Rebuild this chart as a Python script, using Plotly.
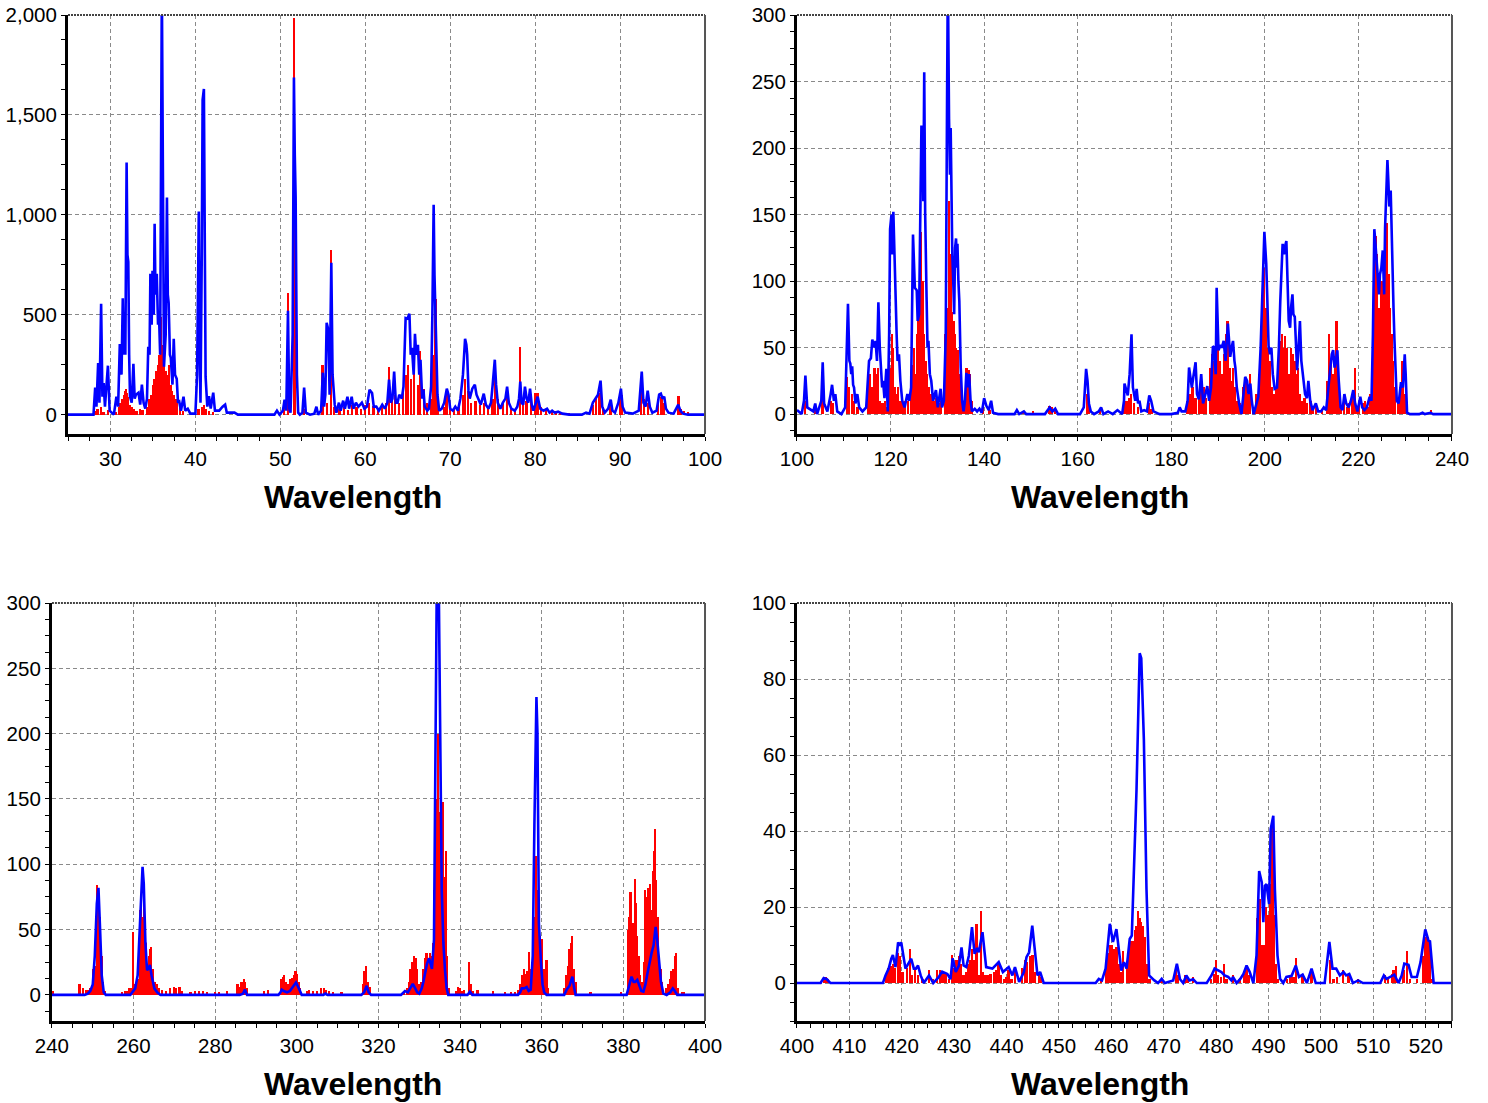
import plotly.graph_objects as go

# ---------------- Panel 1 : 25 - 100 ----------------
p1_sticks = [
    (28.2, 20), (28.5, 30), (28.9, 40), (29.2, 15), (29.7, 25),
    (30.7, 15), (31.0, 40), (31.2, 60), (31.4, 80), (31.6, 100), (31.8, 120), (31.9, 130),
    (32.0, 110), (32.1, 90), (32.3, 50), (32.6, 40), (32.8, 30), (33.1, 20), (33.5, 30), (33.8, 25),
    (34.4, 40), (34.6, 80), (34.8, 100), (35.0, 150), (35.2, 180), (35.4, 220), (35.6, 250),
    (35.8, 300), (36.0, 490), (36.1, 350), (36.3, 280), (36.5, 220), (36.7, 200), (36.9, 250),
    (37.1, 150), (37.3, 120), (37.5, 100), (37.7, 80), (37.9, 60), (38.2, 40), (38.6, 20),
    (40.4, 30), (40.8, 40), (41.0, 50), (41.3, 30), (41.6, 20), (42.1, 15),
    (50.5, 60), (50.9, 610), (51.6, 1983), (51.8, 1250), (52.8, 30),
    (55.0, 250), (55.5, 60), (56.0, 825), (56.3, 40),
    (57.0, 30), (57.5, 40), (58.0, 25), (58.5, 50), (59.0, 40), (59.5, 30), (60.0, 50), (60.5, 60),
    (61.0, 45), (61.5, 30), (62.0, 40), (62.5, 60), (62.8, 240), (63.2, 80), (63.5, 100), (64.0, 60),
    (64.5, 120), (64.8, 200), (65.1, 250), (65.4, 180), (65.8, 320), (66.2, 150), (66.5, 320),
    (66.9, 130), (67.3, 60), (67.8, 80), (68.0, 300), (68.3, 580), (68.6, 60), (69.3, 40), (69.6, 110),
    (70.0, 40), (70.5, 30), (71.0, 40), (71.5, 100), (71.8, 180), (72.1, 120), (72.5, 60), (73.0, 70),
    (73.5, 50), (74.0, 60), (74.5, 40), (75.0, 80), (75.3, 200), (75.7, 80), (76.2, 60), (76.7, 100),
    (77.2, 40), (77.7, 30), (78.25, 340), (78.6, 60), (79.0, 70), (79.5, 90), (80.0, 110), (80.3, 110),
    (80.7, 40), (81.3, 25), (82.0, 15), (82.5, 20), (83.0, 10), (84.0, 10), (86.8, 50), (87.2, 90),
    (87.6, 110), (88.0, 40), (88.9, 60), (90.0, 70), (90.2, 100), (92.5, 170), (92.8, 80), (93.3, 60),
    (94.5, 80), (94.9, 90), (95.2, 60), (96.9, 95), (97.2, 30), (97.6, 20), (98.0, 15),
]
p1_curve = [
    (25, 0), (28.0, 0), (28.2, 135), (28.35, 40), (28.55, 258), (28.7, 60), (28.9, 555), (29.05, 90),
    (29.2, 158), (29.35, 40), (29.7, 245), (29.9, 20), (30.4, 0), (30.7, 90), (30.9, 40), (31.1, 353),
    (31.3, 200), (31.45, 583), (31.55, 300), (31.65, 415), (31.75, 300), (31.9, 1262), (32.0, 800),
    (32.1, 765), (32.2, 300), (32.3, 90), (32.5, 60), (32.7, 255), (32.85, 80), (33.0, 100), (33.3, 110),
    (33.5, 50), (33.7, 150), (33.9, 60), (34.1, 30), (34.3, 80), (34.45, 340), (34.6, 300), (34.7, 705),
    (34.85, 450), (34.95, 720), (35.1, 500), (35.2, 955), (35.3, 600), (35.45, 705), (35.6, 450),
    (35.7, 520), (35.85, 300), (36.05, 2150), (36.2, 500), (36.3, 240), (36.5, 400), (36.65, 1087),
    (36.75, 600), (36.85, 560), (37.0, 300), (37.1, 285), (37.3, 150), (37.45, 380), (37.6, 200),
    (37.8, 180), (37.95, 60), (38.1, 65), (38.3, 20), (38.6, 90), (38.8, 20), (39.1, 30), (39.4, 5),
    (40.0, 5), (40.2, 200), (40.4, 1017), (40.5, 300), (40.6, 60), (40.75, 800), (40.85, 1575),
    (41.0, 1630), (41.1, 600), (41.2, 190), (41.4, 40), (41.6, 93), (41.8, 30), (42.1, 110), (42.3, 20),
    (42.8, 20), (43.2, 40), (43.5, 50), (43.7, 10), (44.2, 10), (44.6, 10), (45.0, 0), (49.3, 0),
    (49.6, 20), (49.9, 0), (50.3, 20), (50.5, 75), (50.7, 20), (50.9, 520), (51.05, 30), (51.2, 10),
    (51.45, 400), (51.6, 1687), (51.7, 1300), (51.8, 1090), (51.95, 200), (52.1, 10), (52.3, 0),
    (52.6, 10), (52.8, 135), (53.0, 10), (53.5, 0), (54.0, 5), (54.25, 40), (54.45, 0), (54.8, 20),
    (55.0, 210), (55.15, 40), (55.3, 100), (55.45, 460), (55.55, 430), (55.65, 425), (55.8, 100),
    (56.0, 760), (56.15, 200), (56.4, 50), (56.6, 10), (56.9, 60), (57.1, 20), (57.4, 70), (57.6, 30),
    (57.9, 90), (58.1, 30), (58.4, 90), (58.6, 30), (58.9, 60), (59.2, 40), (59.6, 60), (59.9, 30),
    (60.2, 40), (60.5, 125), (60.8, 108), (61.0, 40), (61.3, 40), (61.6, 20), (62.0, 50), (62.3, 30),
    (62.6, 60), (62.8, 175), (63.0, 60), (63.2, 80), (63.4, 215), (63.6, 60), (63.8, 60), (64.0, 100),
    (64.3, 80), (64.5, 140), (64.75, 483), (64.95, 480), (65.2, 505), (65.35, 300), (65.5, 335),
    (65.7, 200), (65.85, 405), (66.0, 300), (66.2, 350), (66.35, 200), (66.5, 275), (66.7, 80),
    (66.85, 125), (67.0, 40), (67.3, 20), (67.5, 30), (67.75, 140), (67.9, 500), (68.05, 1050),
    (68.15, 700), (68.3, 420), (68.5, 100), (68.7, 20), (69.0, 30), (69.3, 60), (69.6, 130), (69.8, 100),
    (70.0, 30), (70.3, 20), (70.6, 40), (70.9, 20), (71.2, 80), (71.5, 200), (71.75, 380), (71.9, 350),
    (72.0, 300), (72.15, 120), (72.3, 80), (72.6, 130), (72.9, 150), (73.1, 100), (73.3, 80), (73.6, 50),
    (73.95, 105), (74.2, 50), (74.5, 30), (74.8, 60), (75.0, 150), (75.25, 275), (75.4, 150), (75.6, 60),
    (75.9, 30), (76.2, 60), (76.5, 80), (76.7, 140), (76.9, 60), (77.2, 30), (77.6, 20), (77.9, 40),
    (78.1, 80), (78.25, 165), (78.4, 60), (78.6, 50), (78.8, 140), (79.0, 80), (79.2, 60), (79.4, 130),
    (79.6, 50), (79.8, 20), (80.1, 60), (80.3, 90), (80.6, 30), (81.0, 20), (81.4, 30), (81.7, 10),
    (82.0, 20), (82.3, 10), (82.7, 15), (83.2, 5), (84.0, 0), (85.5, 0), (86.0, 10), (86.4, 5),
    (86.8, 60), (87.1, 80), (87.4, 100), (87.7, 170), (87.9, 40), (88.2, 10), (88.6, 30), (88.9, 75),
    (89.1, 20), (89.4, 10), (89.8, 60), (90.1, 130), (90.3, 40), (90.6, 10), (91.5, 5), (92.2, 20),
    (92.55, 215), (92.75, 60), (93.0, 40), (93.25, 120), (93.5, 40), (93.8, 10), (94.3, 20), (94.6, 100),
    (94.8, 105), (95.0, 80), (95.2, 90), (95.4, 30), (95.7, 10), (96.3, 5), (96.85, 50), (97.1, 20),
    (97.4, 5), (98.0, 0), (100, 0),
]

# ---------------- Panel 2 : 100 - 240 ----------------
p2_sticks = [
    (101.8, 10), (104.0, 3), (105.5, 15), (107.3, 10), (107.8, 8), (110.8, 28), (111.2, 20), (111.8, 15),
    (112.3, 10), (113.0, 5), (115.3, 30), (115.7, 30), (116.2, 20), (116.6, 35), (117.0, 30), (117.4, 35),
    (117.8, 10), (118.3, 8), (118.8, 10), (119.2, 5), (119.7, 40), (120.0, 35), (120.3, 60), (120.6, 50),
    (120.9, 20), (121.3, 15), (121.7, 20), (122.2, 10), (122.7, 8), (123.2, 10), (123.8, 10), (124.5, 30),
    (124.8, 37), (125.1, 50), (125.4, 30), (125.7, 60), (126.0, 90), (126.3, 70), (126.6, 137),
    (126.9, 100), (127.2, 60), (127.5, 40), (127.9, 30), (128.3, 20), (128.8, 15), (129.3, 10),
    (129.8, 12), (130.3, 8), (130.8, 10), (131.7, 60), (132.0, 80), (132.3, 77), (132.6, 160),
    (132.9, 120), (133.2, 77), (133.5, 70), (133.8, 60), (134.1, 50), (134.5, 48), (134.9, 30),
    (135.3, 15), (135.8, 10), (136.3, 35), (136.7, 33), (137.0, 30), (137.4, 10), (139.8, 5), (141.2, 3),
    (148.5, 2), (150.5, 2), (154.0, 6), (154.5, 5), (155.2, 4), (162.0, 15), (162.4, 8), (164.8, 3),
    (170.0, 8), (170.5, 10), (171.0, 12), (171.5, 15), (172.1, 8), (173.0, 5), (175.3, 8), (175.8, 4),
    (183.5, 10), (184.0, 15), (184.6, 20), (185.2, 12), (186.0, 15), (186.5, 18), (187.0, 20),
    (187.5, 12), (188.3, 35), (188.8, 45), (189.3, 40), (189.7, 65), (190.1, 50), (190.5, 40),
    (190.9, 30), (191.3, 45), (191.7, 60), (192.1, 70), (192.5, 35), (192.9, 25), (193.3, 35),
    (193.7, 20), (194.2, 10), (194.8, 8), (195.5, 20), (196.0, 25), (196.5, 15), (196.9, 30), (197.5, 5),
    (198.3, 15), (198.8, 30), (199.2, 60), (199.6, 100), (199.9, 110), (200.3, 80), (200.7, 50),
    (201.1, 40), (201.5, 20), (202.0, 15), (202.5, 20), (202.9, 40), (203.3, 55), (203.7, 60),
    (204.1, 50), (204.4, 59), (204.8, 50), (205.2, 30), (205.6, 50), (206.0, 45), (206.4, 40),
    (206.8, 30), (207.2, 35), (207.6, 15), (208.1, 10), (208.5, 12), (209.0, 8), (209.8, 10), (210.4, 5),
    (211.0, 5), (212.2, 3), (213.4, 25), (213.8, 60), (214.2, 40), (214.6, 30), (215.0, 40), (215.4, 70),
    (215.8, 20), (216.3, 5), (217.0, 10), (217.6, 5), (218.0, 8), (218.8, 15), (219.3, 35), (219.7, 5),
    (220.2, 10), (221.0, 8), (221.5, 10), (222.0, 5), (222.6, 15), (223.0, 30), (223.3, 60),
    (223.7, 134), (224.0, 120), (224.3, 80), (224.7, 70), (225.0, 100), (225.3, 90), (225.6, 120),
    (225.9, 130), (226.2, 144), (226.5, 105), (226.8, 80), (227.1, 60), (227.5, 40), (227.9, 20),
    (228.5, 10), (229.0, 20), (229.5, 40), (229.9, 15), (235.5, 3),
]
p2_curve = [
    (100, 3), (101.0, 0), (101.5, 10), (101.8, 29), (102.2, 5), (103.5, 2), (103.9, 8), (104.3, 0),
    (105.2, 10), (105.5, 39), (105.8, 8), (106.5, 2), (107.2, 15), (107.5, 22), (107.9, 10), (108.2, 15),
    (108.6, 2), (109.5, 0), (110.3, 5), (110.6, 40), (110.9, 83), (111.2, 40), (111.4, 38), (111.6, 30),
    (111.8, 36), (112.0, 22), (112.2, 20), (112.5, 8), (112.9, 15), (113.3, 5), (114.0, 2), (114.8, 5),
    (115.2, 30), (115.4, 40), (115.8, 42), (116.1, 56), (116.5, 50), (116.8, 55), (117.1, 40),
    (117.4, 84), (117.7, 50), (117.9, 35), (118.2, 20), (118.4, 25), (118.7, 12), (119.1, 34),
    (119.4, 2), (119.7, 60), (119.9, 139), (120.2, 150), (120.4, 120), (120.6, 152), (120.9, 105),
    (121.1, 70), (121.3, 60), (121.5, 40), (121.8, 45), (122.1, 25), (122.5, 10), (123.0, 5),
    (123.6, 15), (124.0, 10), (124.4, 20), (124.8, 135), (125.0, 110), (125.2, 95), (125.6, 93),
    (125.8, 70), (126.1, 75), (126.4, 150), (126.6, 216), (126.9, 216), (127.0, 160), (127.2, 257),
    (127.4, 150), (127.7, 88), (127.9, 50), (128.1, 55), (128.4, 30), (128.7, 25), (129.1, 10),
    (129.7, 18), (130.1, 5), (130.7, 19), (131.0, 5), (131.4, 10), (131.8, 60), (132.1, 250),
    (132.25, 330), (132.5, 222), (132.7, 180), (132.85, 215), (133.0, 160), (133.2, 120), (133.4, 100),
    (133.6, 75), (133.8, 125), (134.0, 132), (134.2, 110), (134.3, 128), (134.5, 100), (134.7, 85),
    (135.0, 35), (135.3, 10), (135.6, 2), (135.9, 10), (136.2, 31), (136.5, 20), (136.8, 30),
    (137.1, 10), (137.4, 2), (138.0, 4), (138.5, 2), (139.0, 4), (139.5, 1), (140.0, 12), (140.5, 6),
    (141.0, 3), (141.5, 10), (141.9, 1), (143.0, 0), (146.5, 0), (147.0, 3), (147.5, 0), (148.5, 2),
    (149.0, 0), (153.0, 0), (153.6, 3), (154.0, 5), (154.6, 2), (155.2, 4), (155.8, 0), (160.5, 0),
    (161.3, 5), (161.6, 20), (161.8, 34), (162.1, 25), (162.4, 8), (162.8, 2), (163.5, 0), (164.5, 2),
    (165.0, 5), (165.5, 0), (166.5, 2), (167.5, 0), (168.5, 3), (169.5, 0), (169.9, 10), (170.0, 23),
    (170.4, 18), (170.7, 14), (171.1, 30), (171.5, 60), (171.8, 20), (172.0, 15), (172.3, 10),
    (172.6, 19), (172.9, 8), (173.2, 10), (173.6, 2), (174.2, 3), (174.8, 2), (175.3, 14), (175.7, 10),
    (176.2, 2), (177.5, 0), (180.0, 0), (181.4, 1), (181.8, 5), (182.2, 2), (183.0, 2), (183.5, 10),
    (183.8, 35), (184.1, 28), (184.4, 20), (184.8, 30), (185.2, 39), (185.5, 15), (185.9, 11),
    (186.4, 30), (186.8, 8), (187.3, 15), (187.7, 21), (188.1, 10), (188.5, 20), (188.9, 51),
    (189.2, 50), (189.5, 30), (189.7, 95), (190.0, 60), (190.1, 48), (190.5, 52), (190.8, 50),
    (191.2, 55), (191.6, 40), (192.1, 68), (192.4, 55), (192.6, 43), (192.9, 50), (193.2, 55),
    (193.5, 40), (193.7, 35), (194.0, 20), (194.5, 8), (195.0, 0), (195.4, 15), (195.8, 28), (196.2, 25),
    (196.5, 15), (196.9, 23), (197.2, 10), (197.6, 0), (198.2, 8), (198.6, 13), (199.1, 50), (199.4, 85),
    (199.7, 120), (199.9, 137), (200.1, 125), (200.3, 113), (200.5, 90), (200.8, 51), (201.1, 45),
    (201.4, 50), (201.7, 30), (202.1, 19), (202.6, 20), (203.0, 50), (203.3, 85), (203.6, 110),
    (203.8, 128), (204.1, 120), (204.3, 126), (204.6, 130), (204.8, 95), (205.1, 70), (205.4, 65),
    (205.6, 80), (205.9, 90), (206.1, 75), (206.4, 73), (206.7, 45), (206.9, 33), (207.2, 50),
    (207.5, 70), (207.8, 40), (208.2, 25), (208.6, 15), (209.0, 12), (209.3, 25), (209.7, 10),
    (210.2, 3), (210.9, 8), (211.4, 2), (212.0, 2), (212.6, 5), (213.1, 3), (213.6, 20), (213.9, 35),
    (214.3, 45), (214.6, 48), (214.9, 35), (215.2, 40), (215.5, 48), (215.8, 25), (216.2, 5), (216.6, 3),
    (217.0, 15), (217.4, 8), (217.9, 5), (218.4, 10), (218.9, 18), (219.3, 8), (219.8, 2), (220.4, 13),
    (220.8, 5), (221.3, 3), (221.8, 5), (222.4, 13), (222.8, 10), (223.1, 60), (223.4, 139),
    (223.6, 130), (223.9, 115), (224.1, 100), (224.4, 90), (224.6, 105), (224.9, 110), (225.2, 123),
    (225.4, 100), (225.5, 90), (225.7, 140), (225.9, 168), (226.2, 191), (226.4, 175), (226.6, 156),
    (226.9, 168), (227.1, 130), (227.3, 110), (227.5, 80), (227.7, 56), (227.9, 30), (228.2, 10),
    (228.6, 8), (228.9, 20), (229.1, 24), (229.5, 20), (229.9, 45), (230.1, 30), (230.4, 1), (231.0, 0),
    (233.0, 0), (233.7, 1), (234.2, 0), (235.4, 1), (236.0, 0), (240, 0),
]

# ---------------- Panel 3 : 240 - 400 ----------------
p3_sticks = [
    (240.2, 3), (246.8, 8), (247.7, 5), (248.3, 4), (249.0, 4), (249.5, 5), (250.2, 20), (250.6, 22),
    (251.0, 84), (251.4, 82), (251.8, 60), (252.2, 30), (252.6, 10), (253.0, 3),
    (257.3, 2), (258.0, 3), (258.5, 3), (259.0, 5), (259.5, 5), (260.0, 48), (260.4, 8), (260.8, 10),
    (261.2, 12), (261.6, 65), (261.9, 75), (262.2, 60), (262.5, 72), (262.8, 58), (263.1, 40),
    (263.4, 20), (263.8, 30), (264.1, 35), (264.4, 37), (264.8, 20), (265.3, 10), (265.8, 8),
    (266.3, 5), (267.0, 4), (268.0, 3), (269.0, 5), (270.0, 6), (270.5, 5), (271.3, 6), (272.0, 3),
    (274.0, 2), (275.0, 3), (276.0, 3), (277.0, 3), (278.0, 2), (280.0, 2), (281.0, 2), (283.0, 3),
    (285.5, 8), (286.0, 6), (286.5, 10), (287.0, 12), (287.4, 10), (287.8, 5), (292.0, 3), (293.0, 4),
    (296.2, 12), (296.6, 14), (297.0, 15), (297.4, 10), (297.8, 8), (298.3, 12), (298.8, 13),
    (299.3, 15), (299.7, 18), (300.1, 16), (300.5, 10), (300.9, 5), (302.5, 3), (303.0, 4), (304.0, 3),
    (305.0, 3), (306.0, 5), (306.6, 5), (307.2, 4), (308.0, 3), (309.0, 2), (311.0, 2),
    (316.2, 8), (316.6, 18), (317.0, 22), (317.4, 10), (318.0, 6),
    (326.3, 3), (327.0, 5), (327.5, 10), (327.9, 20), (328.3, 25), (328.7, 30), (329.1, 28),
    (329.5, 20), (329.9, 8), (330.5, 10), (331.0, 20), (331.4, 28), (331.8, 32), (332.2, 28),
    (332.6, 32), (333.0, 30), (333.4, 40), (333.7, 80), (334.0, 150), (334.3, 150), (334.7, 200),
    (335.0, 140), (335.4, 120), (335.9, 148), (336.2, 90), (336.6, 110), (336.9, 30), (337.3, 5),
    (339.0, 3), (339.5, 6), (340.0, 5), (340.4, 3), (341.0, 4), (342.2, 25), (342.6, 8), (343.2, 3),
    (344.3, 4), (348.0, 3), (351.0, 2), (352.5, 2), (353.5, 2), (354.3, 4), (354.8, 8), (355.2, 15),
    (355.6, 20), (356.0, 16), (356.4, 18), (356.9, 33), (357.2, 20), (357.6, 25), (358.0, 40),
    (358.3, 60), (358.6, 106), (358.9, 80), (359.2, 67), (359.6, 45), (360.2, 43), (360.6, 20),
    (361.2, 27), (361.6, 5), (365.5, 5), (366.0, 15), (366.4, 22), (366.8, 35), (367.2, 40),
    (367.5, 45), (367.9, 20), (368.3, 10), (372.0, 2), (379.5, 2), (381.3, 50), (381.5, 60),
    (381.8, 79), (382.1, 45), (382.5, 55), (382.8, 89), (383.1, 70), (383.4, 45), (383.8, 30),
    (384.2, 15), (384.6, 10), (385.1, 25), (385.4, 80), (385.7, 75), (386.0, 82), (386.3, 70),
    (386.6, 85), (386.9, 65), (387.2, 95), (387.5, 110), (387.8, 127), (388.1, 88), (388.4, 60),
    (388.8, 30), (389.2, 20), (389.6, 10), (390.5, 5), (391.0, 8), (391.4, 12), (391.8, 18),
    (392.2, 20), (392.6, 30), (393.0, 32), (393.4, 5), (394.3, 2), (395.0, 2),
]
p3_curve = [
    (240, 0), (248.0, 0), (248.8, 1), (249.4, 3), (250.0, 8), (250.5, 30), (251.0, 70), (251.4, 82),
    (251.8, 50), (252.2, 15), (252.7, 2), (253.2, 0), (259.2, 0), (259.8, 3), (260.4, 5), (261.0, 15),
    (261.5, 50), (261.9, 85), (262.2, 98), (262.5, 85), (262.9, 40), (263.3, 19), (263.7, 20),
    (264.0, 23), (264.4, 15), (265.1, 5), (265.8, 2), (266.6, 0), (286.0, 0), (286.8, 1), (287.3, 4),
    (287.8, 0), (295.5, 0), (296.0, 2), (296.3, 4), (296.8, 3), (297.6, 2), (298.3, 3), (299.0, 6),
    (299.8, 9.5), (300.5, 5), (301.2, 0), (306.5, 0), (307.0, 1), (307.5, 0), (315.8, 0), (316.5, 2),
    (317.1, 7), (317.6, 2), (318.2, 0), (325.5, 0), (326.5, 3), (327.2, 2), (327.8, 5), (328.4, 8.5),
    (329.0, 5), (329.5, 2), (330.0, 1), (330.6, 5), (331.0, 10), (331.4, 17), (331.9, 24), (332.4, 28),
    (332.8, 22), (333.1, 20), (333.6, 42), (334.5, 400), (335.5, 80), (335.9, 40), (336.3, 19),
    (336.7, 5), (337.1, 0), (341.8, 0), (342.4, 2.5), (343.0, 0), (354.2, 0), (354.7, 2), (355.1, 5),
    (355.7, 5), (356.3, 6), (356.8, 3), (357.3, 4), (357.8, 30), (358.2, 130), (358.7, 228),
    (358.95, 200), (359.3, 55), (359.8, 25), (360.2, 8), (360.6, 2), (361.2, 0), (365.5, 0),
    (366.1, 4), (366.8, 7), (367.5, 14), (367.9, 6), (368.3, 0), (380.8, 0), (381.5, 8), (382.0, 14),
    (382.5, 10), (382.9, 10), (383.4, 11.5), (383.9, 7), (384.4, 3), (384.9, 2.5), (385.4, 8),
    (385.9, 16.5), (386.4, 25), (386.9, 32), (387.4, 38), (387.9, 52), (388.3, 42), (388.7, 29),
    (389.2, 10), (389.8, 1), (390.6, 0), (391.5, 2), (392.1, 5), (392.6, 3), (393.2, 0), (400, 0),
]

# ---------------- Panel 4 : 400 - 525 ----------------
p4_sticks = [
    (405.2, 1), (405.6, 1.5), (406.0, 1), (417.0, 2), (417.5, 4), (418.0, 4.5), (418.4, 5), (418.8, 4),
    (419.3, 8), (419.7, 7), (420.2, 3), (421.0, 4), (421.6, 9), (422.0, 2), (422.6, 3.5), (423.2, 2),
    (424.0, 1), (425.2, 3.5), (426.0, 1), (426.8, 3.5), (427.3, 3.5), (427.8, 3), (428.4, 2.5),
    (429.0, 1), (429.6, 7.5), (430.0, 4), (430.5, 6), (430.9, 7), (431.4, 5), (431.8, 2), (432.3, 3),
    (432.7, 5), (433.1, 6), (433.5, 9), (433.9, 6), (434.3, 15.5), (434.8, 2), (435.1, 19), (435.5, 3),
    (436.0, 2), (436.4, 2), (437.0, 2.5), (437.6, 3), (438.0, 3.5), (438.5, 5), (439.0, 2), (439.5, 1),
    (440.0, 1.5), (440.4, 3.5), (441.0, 1), (441.6, 3.5), (443.0, 4), (443.5, 6), (444.0, 5.5),
    (444.5, 7), (445.0, 7.5), (445.4, 3), (446.2, 2.5), (446.6, 1.5), (458.0, 1), (459.0, 5),
    (459.4, 8), (459.8, 10), (460.2, 10), (460.6, 9), (461.0, 9.5), (461.4, 5), (461.8, 3), (462.3, 8.5),
    (463.0, 5), (463.4, 9), (463.8, 11), (464.2, 11), (464.5, 14), (464.8, 15), (465.1, 19), (465.4, 17),
    (465.7, 16), (466.0, 15), (466.4, 12), (466.8, 5), (467.3, 1), (469.6, 1), (472.4, 4.5), (472.8, 2),
    (474.2, 2), (474.6, 1.5), (475.6, 1.5), (479.1, 1), (479.6, 2.5), (480.0, 6), (480.4, 2), (481.0, 1.5),
    (481.5, 5), (482.0, 1), (483.2, 2), (484.5, 1), (485.3, 2.5), (485.8, 4), (486.3, 2), (487.9, 17),
    (488.3, 22), (488.7, 10), (489.2, 10), (489.6, 20), (490.0, 18), (490.4, 26), (490.8, 42),
    (491.1, 18), (491.4, 5), (491.9, 1), (493.5, 1), (494.2, 2), (494.8, 1.5), (495.3, 6.5), (496.5, 2.5),
    (498.2, 3.5), (501.7, 6), (502.4, 1), (503.1, 1.5), (504.2, 3.5), (505.3, 2), (507.1, 1), (512.3, 2),
    (512.8, 1.5), (513.6, 2.5), (513.9, 3.5), (514.3, 4.5), (515.8, 3.5), (516.5, 8.5), (517.0, 1),
    (518.4, 1), (519.5, 7), (520.0, 12), (520.4, 12), (520.8, 10), (521.1, 1),
]
p4_curve = [
    (400, 0), (404.5, 0), (405.1, 1.3), (405.7, 1.0), (406.4, 0), (416.4, 0), (416.9, 2), (417.5, 3.8),
    (418.0, 6.4), (418.3, 7.4), (418.8, 4.2), (419.3, 10.7), (419.6, 9.8), (419.9, 10.7), (420.7, 3.8),
    (421.8, 6.4), (422.3, 3.8), (422.7, 3.8), (423.1, 4.6), (423.6, 2), (424.2, 0), (425.2, 2), (426.0, 0),
    (427.0, 1.5), (427.7, 3), (428.7, 2.4), (429.3, 1), (429.7, 6.5), (430.3, 2.9), (430.9, 4.6),
    (431.4, 9.4), (431.8, 4.6), (432.3, 4.2), (432.8, 7.2), (433.4, 14.7), (433.9, 7.7), (434.4, 9.2),
    (434.7, 8.1), (435.4, 13.4), (436.1, 4.2), (437.3, 3.8), (438.5, 5.5), (439.3, 2.9), (440.4, 4.2),
    (441.1, 2), (441.6, 4.2), (442.4, 0.3), (443.3, 2.9), (443.8, 6.8), (444.3, 8.1), (444.9, 15.1),
    (445.5, 8.1), (445.9, 2), (446.4, 2.9), (447.1, 0), (457.0, 0), (457.6, 1.1), (458.2, 0.7),
    (458.9, 3.8), (459.7, 15.6), (460.3, 10.8), (460.96, 14.2), (461.6, 6.4), (461.9, 3.3), (462.4, 5.5),
    (462.9, 3.8), (463.5, 11.6), (463.9, 12.5), (464.8, 51), (465.4, 86.8), (465.7, 85.5), (466.2, 64),
    (466.7, 24.7), (467.2, 2), (468.2, 0.7), (468.9, 0), (469.6, 1.1), (470.2, 0), (471.8, 0.7),
    (472.5, 5.1), (473.1, 1), (473.7, 0), (474.3, 2), (474.9, 0.7), (475.6, 1), (476.3, 0), (478.2, 0),
    (479.1, 2), (479.7, 3.8), (480.4, 3.4), (481.0, 2.9), (481.6, 2), (482.3, 1.6), (482.9, 0.7),
    (483.2, 1.6), (483.9, 0), (484.6, 1.1), (485.2, 2.4), (485.8, 4.6), (486.4, 2.9), (487.1, 0),
    (487.7, 7.3), (488.2, 29.5), (488.7, 26.5), (489.0, 16), (489.3, 25.6), (489.6, 26), (490.1, 20.8),
    (490.4, 40.5), (490.9, 44), (491.2, 24.7), (491.7, 7.3), (492.2, 1.1), (492.8, 0), (493.4, 1.6),
    (494.4, 1.9), (495.2, 4.6), (495.8, 1.6), (496.5, 2.2), (497.3, 0), (498.2, 3.8), (499.0, 0),
    (500.7, 0), (501.6, 10.8), (502.2, 3.8), (502.9, 3.8), (503.6, 2), (504.3, 2.9), (504.8, 2),
    (505.4, 2.4), (506.1, 0), (507.1, 0.7), (508.0, 0), (511.3, 0), (512.0, 2), (512.5, 1.1),
    (513.2, 1.6), (514.0, 2.2), (514.8, 0), (515.4, 2), (515.9, 5.1), (516.7, 4.8), (517.3, 1.6),
    (518.3, 1.6), (519.0, 5.5), (519.9, 14.1), (520.5, 11.2), (520.8, 11), (521.5, 0), (525, 0),
]

panels = [
    dict(sticks=p1_sticks, curve=p1_curve, xr=[25, 100], yr=[-97, 2000], dx=10, mdx=2.5, dy=500, mdy=125,
         bw=0.2, xdom=[0.0457, 0.4738], ydom=[0.6065, 0.9864], fmt=',d'),
    dict(sticks=p2_sticks, curve=p2_curve, xr=[100, 240], yr=[-15, 300], dx=20, mdx=5, dy=50, mdy=12.5,
         bw=0.4, xdom=[0.5356, 0.9758], ydom=[0.6065, 0.9864], fmt='d'),
    dict(sticks=p3_sticks, curve=p3_curve, xr=[240, 400], yr=[-20, 300], dx=20, mdx=5, dy=50, mdy=12.5,
         bw=0.4, xdom=[0.0349, 0.4738], ydom=[0.0743, 0.4533], fmt='d'),
    dict(sticks=p4_sticks, curve=p4_curve, xr=[400, 525], yr=[-10, 100], dx=10, mdx=2.5, dy=20, mdy=5,
         bw=0.35, xdom=[0.5356, 0.9758], ydom=[0.0743, 0.4533], fmt='d'),
]

FONT = 'Liberation Sans, Arial, sans-serif'
fig = go.Figure()
layout = dict(width=1488, height=1103, autosize=False, margin=dict(l=0, r=0, t=0, b=0, pad=0, autoexpand=False),
              paper_bgcolor='white', plot_bgcolor='white', showlegend=False,
              barmode='overlay', bargap=0, shapes=[], annotations=[])

for i, p in enumerate(panels):
    n = '' if i == 0 else str(i + 1)
    xref, yref = 'x' + n, 'y' + n
    sw = [s[0] for s in p['sticks']]
    sh = [s[1] for s in p['sticks']]
    cw = [c[0] for c in p['curve']]
    ch = [c[1] for c in p['curve']]
    fig.add_trace(go.Bar(x=sw, y=sh, width=p['bw'], marker=dict(color='#ff0000', line=dict(width=0)),
                         xaxis=xref, yaxis=yref, hoverinfo='skip'))
    fig.add_trace(go.Scatter(x=cw, y=ch, mode='lines', line=dict(color='#0000ff', width=2.6),
                             xaxis=xref, yaxis=yref, hoverinfo='skip'))
    common = dict(showgrid=True, gridcolor='#8a8a8a', griddash='4px,3px', gridwidth=1,
                  showline=True, linecolor='black', linewidth=3, ticks='outside', ticklen=4,
                  tickwidth=1, tickcolor='black', zeroline=False, mirror=False, automargin=False,
                  tickfont=dict(family=FONT, size=20.5, color='black'))
    layout['xaxis' + n] = dict(common, domain=p['xdom'], range=p['xr'], dtick=p['dx'], tick0=0,
                               anchor=yref, minor=dict(dtick=p['mdx'], tick0=0, ticks='outside',
                                                       ticklen=4, tickcolor='black', showgrid=False))
    layout['yaxis' + n] = dict(common, domain=p['ydom'], range=p['yr'], dtick=p['dy'], tick0=0,
                               anchor=xref, tickformat=p['fmt'],
                               minor=dict(dtick=p['mdy'], tick0=0, ticks='outside',
                                          ticklen=4, tickcolor='black', showgrid=False))
    # top border (dotted) and right border
    layout['shapes'].append(dict(type='line', xref=xref + ' domain', yref=yref + ' domain',
                                 x0=0, x1=1, y0=1, y1=1, line=dict(color='#444444', width=2, dash='2px,1px')))
    layout['shapes'].append(dict(type='line', xref=xref + ' domain', yref=yref + ' domain',
                                 x0=1, x1=1, y0=0, y1=1, line=dict(color='#555555', width=2)))

title_pos = [(0.2372, 0.5495), (0.7392, 0.5495), (0.2372, 0.0172), (0.7392, 0.0172)]
for (tx, ty) in title_pos:
    layout['annotations'].append(dict(text='<b>Wavelength</b>', x=tx, y=ty, xref='paper', yref='paper',
                                      showarrow=False, xanchor='center', yanchor='middle',
                                      font=dict(family=FONT, size=32, color='black')))

fig.update_layout(**layout)
fig.write_html('out.html')
